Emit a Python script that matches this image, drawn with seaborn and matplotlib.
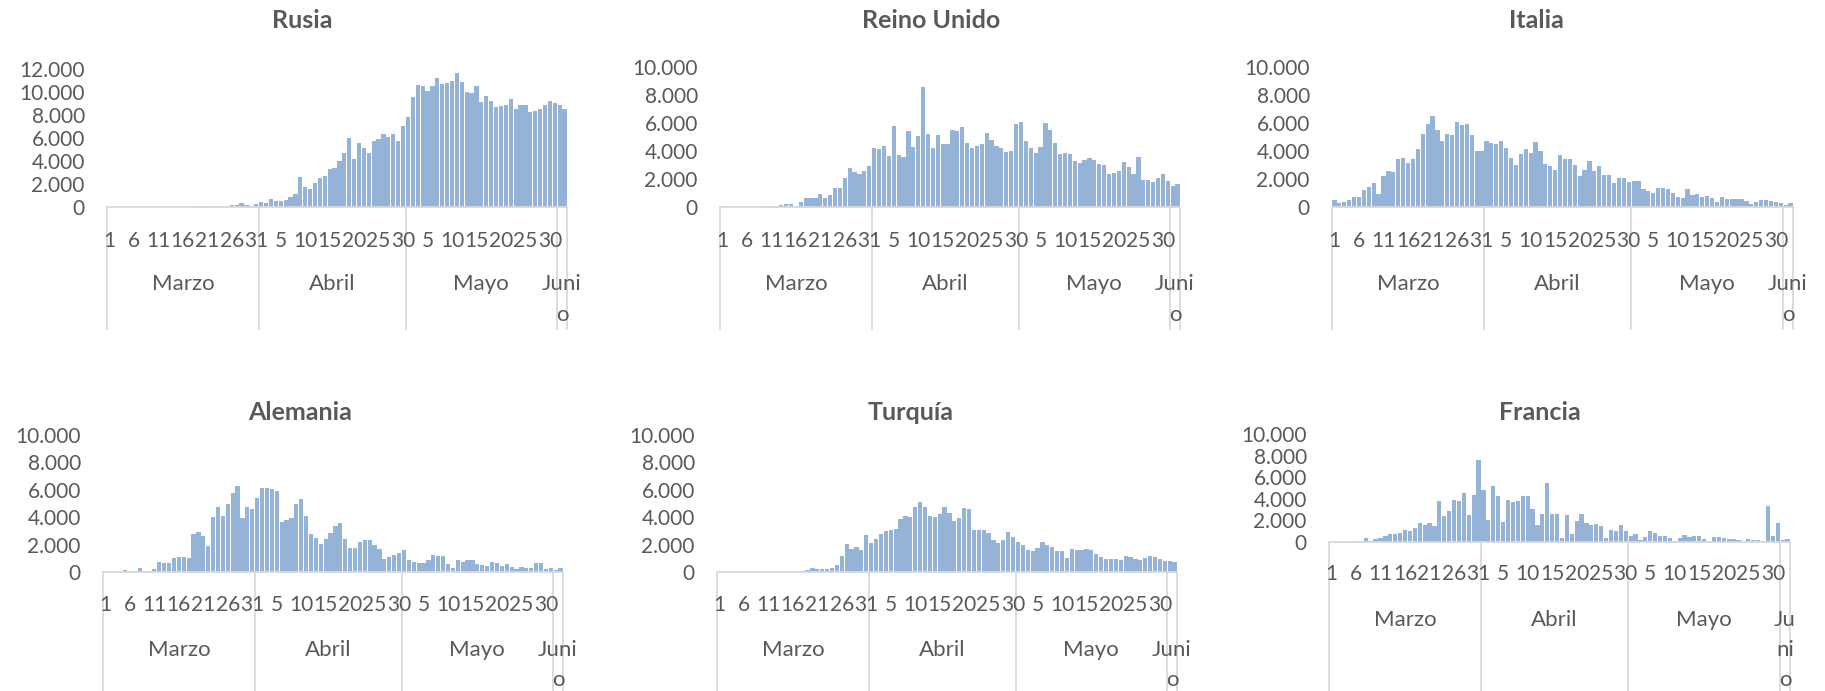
import pandas as pd
import seaborn as sns
import matplotlib.pyplot as plt
from matplotlib import transforms

W, H = 1825, 691

# casos diarios, 1 de marzo a 2 de junio (94 dias)
rusia = [0, 0, 0, 0, 1, 0, 4, 0, 3, 0, 0, 3, 6, 11, 14, 29, 14, 27, 52, 54, 53, 62, 28,
         58, 90, 145, 145, 350, 200, 50, 230,
         400, 380, 700, 520, 490, 580, 900, 1100, 2590, 1710,
         1600, 2120, 2500, 2700, 3340, 3370, 3980, 4710, 5990, 4210,
         5580, 5170, 4710, 5780, 5900, 6310, 6130, 6360, 5780, 7030,
         7850, 9560, 10580, 10520, 10050, 10520, 11190, 10660, 10750, 10930,
         11620, 10870, 10000, 9910, 10550, 9120, 9650, 9180, 8690, 8780,
         8830, 9360, 8510, 8890, 8860, 8280, 8310, 8490, 8890, 9180, 9010,
         8830, 8490]
reino_unido = [5, 5, 10, 10, 15, 15, 20,
               25, 30, 50, 70, 100, 150, 240, 240, 50, 340, 620, 620, 620, 935,
               620, 890, 1340, 1370, 2040, 2810, 2470, 2350, 2540, 2930,
               4240, 4150, 4360, 3650, 5800, 3720, 3550, 5400, 4290, 5080,
               8590, 5200, 4240, 5160, 4510, 4510, 5520, 5400, 5730, 4580,
               4220, 4360, 4510, 5280, 4800, 4390, 4220, 3910, 3980, 5920,
               6090, 4700, 4240, 3880, 4290, 6000, 5520, 4560, 3810, 3840,
               3760, 3310, 3140, 3360, 3480, 3360, 3050, 3000, 2330, 2400,
               2540, 3190, 2880, 2330, 3570, 1920, 1920, 1800, 2040, 2370, 1850,
               1490, 1610]
italia = [500, 260, 380, 530, 700, 700, 1180, 1410, 1730, 910,
          2230, 2570, 2490, 3400, 3530, 3140, 3450, 4150, 5250, 5920,
          6470, 5470, 4720, 5180, 5130, 6060, 5880, 5900, 5130, 3980, 3980,
          4700, 4580, 4510, 4720, 4220, 3530, 2970, 3760, 4120, 3860,
          4630, 4030, 3070, 2900, 2610, 3720, 3430, 3400, 2970, 2210,
          2640, 3280, 2570, 2950, 2280, 2280, 1680, 2040, 2040, 1770,
          1890, 1850, 1290, 1150, 1010, 1390, 1340, 1270, 1030, 740,
          670, 1320, 840, 910, 720, 790, 620, 380, 740, 600,
          580, 600, 600, 460, 240, 340, 530, 530, 460, 340, 310,
          120, 260]
alemania = [10, 10, 20, 100, 125, 50, 70, 270, 0, 95,
            220, 760, 635, 680, 1000, 1125, 1095, 1000, 2745, 2920,
            2650, 1870, 4010, 4720, 4090, 4945, 5770, 6280, 3945, 4720, 4580,
            5425, 6135, 6135, 6040, 5915, 3650, 3820, 3965, 4965, 5310,
            4090, 2775, 2505, 2015, 2430, 2820, 3330, 3580, 2410, 1730,
            1730, 2190, 2315, 2315, 2000, 1680, 950, 1095, 1220, 1410,
            1605, 875, 730, 635, 635, 875, 1240, 1140, 1190, 605,
            315, 875, 760, 875, 875, 555, 510, 440, 760, 680,
            415, 585, 365, 240, 395, 315, 290, 680, 680, 240, 290,
            125, 290]
turquia = [0, 0, 0, 0, 0, 0, 0, 0, 0, 0,
           1, 1, 3, 1, 12, 28, 32, 50, 125, 290,
           240, 240, 240, 290, 510, 1170, 2015, 1680, 1805, 1585, 2680,
           2120, 2430, 2745, 3000, 3090, 3110, 3870, 4090, 4015, 4720,
           5135, 4770, 4060, 4015, 4260, 4770, 4330, 3725, 3945, 4645,
           4580, 3060, 3090, 3090, 2850, 2335, 2095, 2335, 2920, 2555,
           2170, 1950, 1605, 1555, 1775, 2190, 1950, 1805, 1505, 1505,
           1045, 1680, 1605, 1605, 1680, 1585, 1315, 1095, 970, 920,
           920, 900, 1140, 1095, 950, 900, 1000, 1140, 1095, 950, 805,
           805, 730]
francia = [20, 20, 30, 30, 30, 120, 30, 400, 120, 280,
           400, 520, 710, 770, 830, 1140, 1050, 1330, 1790, 1570,
           1790, 1510, 3760, 2380, 2840, 3860, 3760, 4570, 2530, 4320, 7560,
           4810, 2070, 5220, 4230, 1820, 3860, 3730, 3830, 4230, 4290,
           3090, 1540, 2620, 5430, 2560, 2560, 340, 2500, 710, 1980,
           2590, 1760, 1570, 1700, 1480, 370, 1110, 990, 1540, 1050,
           520, 740, 220, 490, 1020, 860, 590, 590, 370, 120,
           370, 650, 460, 560, 520, 280, 30, 430, 460, 340,
           250, 310, 150, 30, 280, 190, 150, 90, 3300, 520, 1790,
           190, 250]

dias = list(range(1, 32)) + list(range(1, 31)) + list(range(1, 32)) + [1, 2]
meses = ["Marzo", "Abril", "Mayo"]
centros_mes = [15, 45.5, 76]
limites_mes = [-0.5, 30.5, 60.5, 91.5, 93.5]

AZUL = "#95B3D7"
GRIS = "#595959"
LINEA = "#D9D9D9"

sns.set_theme(style="white")
plt.rcParams['font.family'] = ['Lato', 'DejaVu Sans']

fig = plt.figure(figsize=(W / 100, H / 100), dpi=100)


def fx(x):
    return x / W


def fy(y):
    return 1 - y / H


# nombre, datos, ymax, caja (izq, arriba, der, base) en px, titulo, y dias, y meses/junio, fondo lineas
paneles = [
    ("Rusia", rusia, 12000, (107, 69, 567, 207), (302, 21), 241, [284, 315], 329, ["Juni", "o"]),
    ("Reino Unido", reino_unido, 10000, (720, 67, 1180, 207), (931, 21), 241, [284, 315], 329, ["Juni", "o"]),
    ("Italia", italia, 10000, (1332, 67, 1793, 207), (1536, 21), 241, [284, 315], 329, ["Juni", "o"]),
    ("Alemania", alemania, 10000, (103, 435, 563, 572), (300, 413), 605, [650, 680], 691, ["Juni", "o"]),
    ("Turquía", turquia, 10000, (717, 435, 1177, 572), (911, 413), 605, [650, 680], 691, ["Juni", "o"]),
    ("Francia", francia, 10000, (1329, 434, 1790, 542), (1540, 413), 574, [620, 650, 680], 691, ["Ju", "ni", "o"]),
]

for nombre, datos, ymax, (l, t, r, b), (tx, ty), y_dias, y_mes, fondo, junio in paneles:
    ax = fig.add_axes([fx(l), fy(b), (r - l) / W, (b - t) / H])
    df = pd.DataFrame({"pos": range(len(datos)), "casos": datos})
    sns.barplot(data=df, x="pos", y="casos", color=AZUL, saturation=1,
                width=0.86, linewidth=0, ax=ax)
    ax.set_xlim(-0.5, len(datos) - 0.5)
    ax.set_ylim(0, ymax)
    ax.set_xlabel("")
    ax.set_ylabel("")
    ax.set_xticks([])
    ax.set_yticks(range(0, ymax + 1, 2000))
    ax.set_yticklabels([f"{v:,}".replace(",", ".") for v in range(0, ymax + 1, 2000)])
    ax.tick_params(axis="y", length=0, pad=16, labelsize=15, colors=GRIS)
    sns.despine(ax=ax, left=True)
    ax.spines["bottom"].set_color(LINEA)
    ax.spines["bottom"].set_linewidth(1.3)

    mezcla = transforms.blended_transform_factory(ax.transData, fig.transFigure)
    for k in range(0, len(datos), 5):
        ax.text(k, fy(y_dias), str(dias[k]), transform=mezcla, ha="center",
                va="center", fontsize=15, color=GRIS)
    for xb in limites_mes:
        ax.plot([xb, xb], [fy(b), fy(fondo)], transform=mezcla, clip_on=False,
                color=LINEA, lw=1.3)
    for mes, cx in zip(meses, centros_mes):
        ax.text(cx, fy(y_mes[0]), mes, transform=mezcla, ha="center",
                va="center", fontsize=16, color=GRIS)
    for trozo, yy in zip(junio, y_mes):
        ax.text(92.5, fy(yy), trozo, transform=mezcla, ha="center",
                va="center", fontsize=16, color=GRIS)

    fig.text(fx(tx), fy(ty), nombre, ha="center", va="center", fontsize=18,
             fontweight="bold", color=GRIS)

fig.savefig("out.png", dpi=100)
plt.close(fig)
